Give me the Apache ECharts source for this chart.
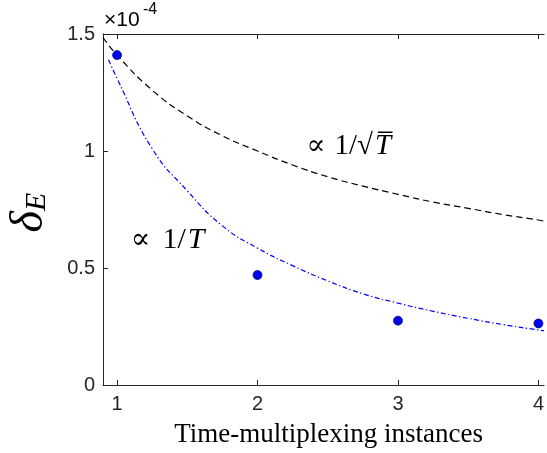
<!DOCTYPE html>
<html><head><meta charset="utf-8">
<script src="https://cdn.jsdelivr.net/npm/echarts@6/dist/echarts.min.js"></script>
<style>html,body{margin:0;padding:0;background:#fff}#c{width:547px;height:453px}</style>
</head><body><div id="c"></div>
<script>
const xTicks = [1, 2, 3, 4];
const measX = [1, 2, 3, 4];
const measY = [1.41, 0.47, 0.275, 0.263];
const sqrtX = [0.9, 1.0, 1.25, 1.5, 1.75, 2.0, 2.25, 2.5, 2.75, 3.0, 3.25, 3.5, 3.75, 4.0, 4.04];
const sqrtY = [1.485, 1.41, 1.26, 1.15, 1.065, 1.0, 0.94, 0.89, 0.85, 0.815, 0.782, 0.755, 0.728, 0.705, 0.70];
const invX = [0.94, 1.0, 1.25, 1.5, 1.75, 2.0, 2.25, 2.5, 2.75, 3.0, 3.25, 3.5, 3.75, 4.0, 4.04];
const invY = [1.39, 1.31, 1.01, 0.83, 0.68, 0.585, 0.51, 0.445, 0.39, 0.35, 0.315, 0.285, 0.258, 0.235, 0.232];
const xLabel = 'Time-multiplexing instances';
const yLabel = ['δ', 'E'];
const scaleText = ['×10', '-4'];
const annSqrt = { pos: [2.65, 1.02], text: ['∝', '1/√', 'T\u0305'] };
const annInv = { pos: [1.36, 0.62], text: ['∝', '1/', 'T'] };

const AX = '#262626';
const sans = '"Liberation Sans", Arial, sans-serif';
const serif = '"Liberation Serif", "DejaVu Serif", serif';

const chart = echarts.init(document.getElementById('c'), null, { renderer: 'canvas' });
function xAx(pos) {
  return {
    type: 'value', min: 0.9, max: 4.04, position: pos,
    axisLine: { show: true, onZero: false, lineStyle: { color: AX, width: 1 } },
    axisTick: { show: true, inside: true, length: 5, customValues: xTicks, lineStyle: { color: AX } },
    axisLabel: pos === 'bottom'
      ? { show: true, customValues: xTicks, fontSize: 20, color: AX, fontFamily: sans, margin: 9 }
      : { show: false },
    splitLine: { show: false }
  };
}
const xb = xAx('bottom');
xb.name = xLabel;
xb.nameLocation = 'middle';
xb.nameGap = 36;
xb.nameTextStyle = { fontFamily: serif, fontSize: 27, color: '#000', padding: [0, 0, 0, 10] };

chart.setOption({
  animation: false,
  grid: { left: 103, right: 0, top: 34, bottom: 66, containLabel: false },
  xAxis: [xb, xAx('top')],
  yAxis: {
    type: 'value', min: 0, max: 1.5, interval: 0.5,
    axisLine: { show: true, lineStyle: { color: AX, width: 1 } },
    axisTick: { show: true, inside: true, length: 5, lineStyle: { color: AX } },
    axisLabel: { fontSize: 20, color: AX, fontFamily: sans, margin: 8 },
    splitLine: { show: false }
  },
  series: [
    {
      type: 'line', data: sqrtX.map((x, i) => [x, sqrtY[i]]), showSymbol: false,
      smooth: true,
      lineStyle: { color: '#000', width: 1.2, type: [6.5, 4] }
    },
    {
      type: 'line', data: invX.map((x, i) => [x, invY[i]]), showSymbol: false,
      smooth: true,
      lineStyle: { color: '#0000ff', width: 1.2, type: [5, 2.5, 1.3, 2.5] }
    },
    {
      type: 'scatter', data: measX.map((x, i) => [x, measY[i]]), symbolSize: 9,
      itemStyle: { color: '#0000ee', borderColor: '#00005a', borderWidth: 0.7, opacity: 1 },
      z: 5
    }
  ]
});

const pS = chart.convertToPixel({ gridIndex: 0 }, annSqrt.pos);
const pI = chart.convertToPixel({ gridIndex: 0 }, annInv.pos);
function ann(p, t, gap, size) {
  return {
    type: 'text', x: p[0], y: p[1],
    style: {
      text: '{p|' + t[0] + '}{n|' + t[1] + '}{t|' + t[2] + '}',
      rich: {
        p: { fontFamily: serif, fontSize: size - 1, color: '#000', padding: [0, gap, 0, 0] },
        n: { fontFamily: serif, fontSize: size, color: '#000' },
        t: { fontFamily: serif, fontSize: size, fontStyle: 'italic', color: '#000', padding: [0, 0, 0, 2] }
      },
      textAlign: 'center', textVerticalAlign: 'middle'
    }
  };
}
function plain(x, y, txt, size) {
  return {
    type: 'text', x: x, y: y,
    style: {
      text: '{s|' + txt + '}',
      rich: { s: { fontSize: size, fontFamily: sans, color: AX } },
      textVerticalAlign: 'middle'
    }
  };
}
chart.setOption({
  graphic: [
    plain(104, 20, scaleText[0], 21),
    plain(143, 10, scaleText[1], 16),
    {
      type: 'group', x: 30, y: 211, rotation: Math.PI / 2,
      children: [
        { type: 'text', x: 0, y: 0, style: { text: yLabel[0], fontSize: 46, fontStyle: 'italic', fontFamily: serif, fill: '#000', textAlign: 'right', textVerticalAlign: 'middle' } },
        { type: 'text', x: 0, y: 7, style: { text: yLabel[1], fontSize: 30, fontStyle: 'italic', fontFamily: serif, fill: '#000', textAlign: 'left', textVerticalAlign: 'middle' } }
      ]
    },
    ann(pS, annSqrt.text, 9, 29),
    ann(pI, annInv.text, 12, 30)
  ]
});
</script></body></html>
